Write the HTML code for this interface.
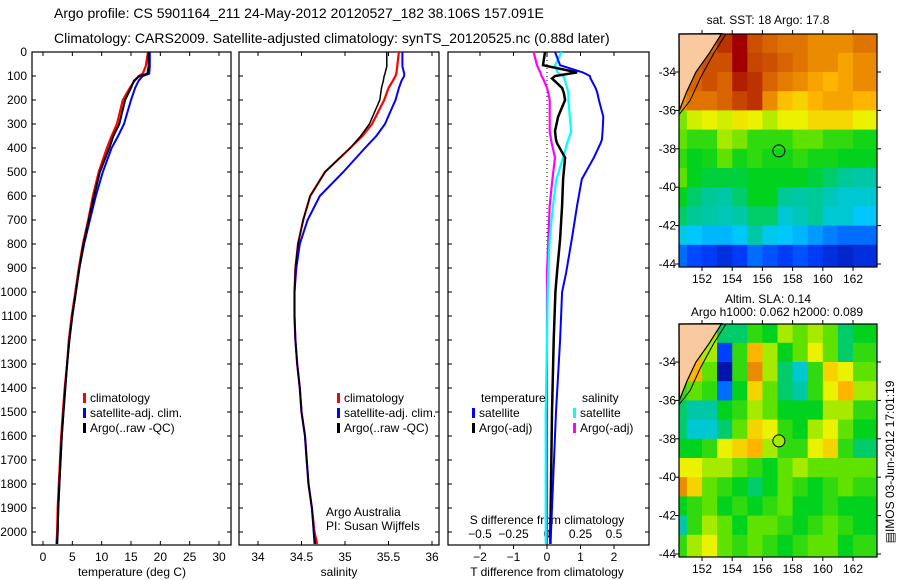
<!DOCTYPE html>
<html><head><meta charset="utf-8">
<style>
html,body{margin:0;padding:0;background:#fff;}
svg{display:block;font-family:"Liberation Sans",sans-serif;}
</style></head>
<body>
<svg id="fig" width="900" height="580" viewBox="0 0 900 580" xmlns="http://www.w3.org/2000/svg">
<text x="54" y="18" font-size="14">Argo profile: CS 5901164_211 24-May-2012 20120527_182 38.106S 157.091E</text>
<text x="54" y="43" font-size="14">Climatology: CARS2009. Satellite-adjusted climatology: synTS_20120525.nc (0.88d later)</text>
</svg>
<script>
// ---------- data ----------
const depths = [0,60,90,100,120,150,200,250,300,350,400,500,600,700,800,900,1000,1100,1200,1300,1400,1500,1600,1700,1800,1900,2000,2050];
const tempClim = [17.9,17.5,17.0,16.3,15.6,14.8,13.6,13.1,12.6,11.7,10.9,9.5,8.5,7.7,6.8,6.1,5.5,4.9,4.4,4.1,3.7,3.4,3.1,2.9,2.7,2.5,2.4,2.3];
const tempSat = [18.2,18.2,18.1,17.0,16.3,15.7,15.0,14.4,13.8,12.8,11.7,10.2,9.0,8.0,7.0,6.2,5.6,5.0,4.5,4.1,3.8,3.5,3.2,3.0,2.8,2.6,2.5,2.4];
const tempArgo = [18.0,18.0,17.8,16.5,15.5,15.0,14.0,13.5,13.0,12.0,11.3,9.7,8.7,7.8,6.9,6.2,5.6,5.0,4.5,4.1,3.8,3.5,3.2,3.0,2.8,2.6,2.5,2.4];
const salClim = [35.62,35.60,35.59,35.58,35.55,35.50,35.45,35.38,35.31,35.20,35.06,34.77,34.60,34.52,34.46,34.43,34.42,34.42,34.43,34.45,34.48,34.50,34.54,34.56,34.58,34.62,34.65,34.68];
const salSat = [35.66,35.66,35.68,35.68,35.65,35.62,35.58,35.52,35.46,35.36,35.23,34.98,34.71,34.57,34.48,34.44,34.42,34.42,34.43,34.45,34.48,34.50,34.54,34.56,34.58,34.62,34.64,34.65];
const salArgo = [35.48,35.48,35.46,35.45,35.44,35.42,35.40,35.34,35.28,35.18,35.06,34.77,34.60,34.52,34.46,34.43,34.42,34.42,34.43,34.45,34.48,34.50,34.54,34.56,34.58,34.62,34.64,34.66];
const diffDepths = [0,55,85,100,110,150,170,200,270,330,365,380,440,530,640,780,920,1000,1200,1500,1800,2000,2050];
const dTSat = [0.24,0.39,1.07,1.28,1.3,1.45,1.5,1.55,1.68,1.66,1.64,1.6,1.4,1.04,0.9,0.74,0.57,0.45,0.39,0.27,0.18,0.12,0.1];
const dTArgo = [-0.06,-0.12,0.9,0.24,0.15,0.45,0.5,0.54,0.33,0.24,0.27,0.3,0.54,0.48,0.45,0.39,0.3,0.25,0.2,0.15,0.12,0.1,0.1];
const dSSat = [0.11,0.06,0.08,0.12,0.13,0.15,0.16,0.16,0.17,0.18,0.16,0.15,0.12,0.07,0.045,0.02,0.01,0.005,0,-0.01,-0.01,-0.01,-0.01];
const dSArgo = [-0.1,-0.075,-0.05,-0.04,-0.03,0,0.01,0.02,0.02,0.02,0.03,0.035,0.06,0.04,0.02,0.01,0,0,0,0,0,0,0];
const depthTicks = [0,100,200,300,400,500,600,700,800,900,1000,1100,1200,1300,1400,1500,1600,1700,1800,1900,2000];
const tempTicks = [0,5,10,15,20,25,30];
const salTicks = [34,34.5,35,35.5,36];
const tDiffTicks = [-2,-1,0,1,2];
const sDiffTicks = [-0.5,-0.25,0,0.25,0.5];
const sDiffLabels = ['\u22120.5','\u22120.25','0','0.25','0.5'];
const latTicks = [-34,-36,-38,-40,-42,-44];
const lonTicks = [152,154,156,158,160,162];
const gridLats = [-32,-33,-34,-35,-36,-37,-38,-39,-40,-41,-42,-43];
const gridLons = [150.5,151.5,152.5,153.5,154.5,155.5,156.5,157.5,158.5,159.5,160.5,161.5,162.5];
const sstGrid = [
[null,null,0.9,0.95,1.0,0.92,0.9,0.88,0.88,0.85,0.85,0.85,0.88],
[null,0.9,0.92,0.92,1.0,0.93,0.92,0.9,0.88,0.85,0.85,0.82,0.85],
[null,0.9,0.92,0.9,0.97,0.95,0.9,0.87,0.85,0.82,0.8,0.82,0.85],
[0.85,0.88,0.88,0.9,0.93,0.95,0.85,0.78,0.75,0.8,0.82,0.82,0.8],
[0.62,0.68,0.7,0.68,0.72,0.7,0.66,0.7,0.7,0.74,0.74,0.74,0.7],
[0.6,0.55,0.55,0.65,0.62,0.55,0.55,0.55,0.6,0.6,0.55,0.55,0.52],
[0.55,0.5,0.52,0.6,0.52,0.55,0.52,0.52,0.55,0.52,0.52,0.5,0.5],
[0.6,0.5,0.48,0.48,0.48,0.5,0.5,0.5,0.5,0.48,0.45,0.42,0.4],
[0.5,0.45,0.42,0.4,0.45,0.5,0.5,0.42,0.4,0.42,0.38,0.35,0.35],
[0.45,0.42,0.4,0.38,0.4,0.45,0.45,0.35,0.38,0.42,0.35,0.35,0.3],
[0.33,0.3,0.28,0.28,0.3,0.4,0.32,0.3,0.28,0.25,0.22,0.2,0.2],
[0.2,0.16,0.14,0.11,0.14,0.2,0.17,0.14,0.17,0.14,0.11,0.09,0.11]];
const slaGrid = [
[null,null,0.65,0.45,0.45,0.55,0.5,0.65,0.6,0.65,0.6,0.45,0.5],
[null,0.8,0.65,0.15,0.55,0.8,0.65,0.5,0.6,0.7,0.6,0.45,0.55],
[null,0.8,0.6,0.05,0.55,0.85,0.65,0.45,0.35,0.55,0.75,0.7,0.6],
[0.55,0.6,0.55,0.2,0.5,0.75,0.6,0.45,0.4,0.55,0.7,0.8,0.65],
[0.45,0.4,0.4,0.5,0.55,0.65,0.6,0.5,0.5,0.5,0.65,0.65,0.55],
[0.45,0.35,0.35,0.45,0.6,0.75,0.7,0.55,0.5,0.65,0.7,0.6,0.5],
[0.5,0.5,0.55,0.7,0.75,0.8,0.65,0.55,0.55,0.7,0.75,0.55,0.45],
[0.7,0.7,0.65,0.65,0.6,0.55,0.5,0.6,0.65,0.6,0.6,0.6,0.6],
[0.85,0.75,0.6,0.55,0.5,0.45,0.5,0.6,0.55,0.5,0.55,0.6,0.55],
[0.5,0.55,0.6,0.5,0.55,0.5,0.55,0.6,0.5,0.5,0.55,0.5,0.5],
[0.4,0.55,0.65,0.6,0.5,0.6,0.6,0.55,0.5,0.55,0.6,0.55,0.5],
[0.55,0.65,0.7,0.6,0.55,0.6,0.55,0.5,0.55,0.6,0.6,0.5,0.55]];
const argoLon = 157.09, argoLat = -38.11;

// ---------- helpers ----------
const NS = "http://www.w3.org/2000/svg";
const svg = document.getElementById('fig');
function mk(tag, attrs, parent){const e=document.createElementNS(NS,tag);for(const k in attrs)e.setAttribute(k,attrs[k]);(parent||svg).appendChild(e);return e;}
function lin(d0,d1,r0,r1){return v=>r0+(v-d0)*(r1-r0)/(d1-d0);}
const yDepth = lin(0,2000,52,532);
const PT=52, PB=545;

function panel(name,x0,x1){
  const r=mk('rect',{x:x0,y:PT,width:x1-x0,height:PB-PT,fill:'none',stroke:'#000','stroke-width':1.2});
  
  
  depthTicks.forEach(d=>{const y=yDepth(d);
    mk('line',{x1:x0,x2:x0+4,y1:y,y2:y,stroke:'#000'});
    mk('line',{x1:x1,x2:x1-4,y1:y,y2:y,stroke:'#000'});});
}
function line(name,xs,ds,xf,color,w){
  const pts=xs.map((v,i)=>xf(v).toFixed(1)+','+yDepth(ds[i]).toFixed(1)).join(' ');
  const p=mk('polyline',{points:pts,fill:'none',stroke:color,'stroke-width':w||2});
  
  
}
function txt(s,x,y,o){const t=mk('text',Object.assign({x:x,y:y,'font-size':12},o||{}));t.textContent=s;return t;}
function legend(x,y,color,label,name){
  mk('rect',{x:x,y:y-9,width:3,height:10,fill:color});
  const t=txt(label,x+7,y);
  
  
}

// ---------- panel 1: temperature ----------
const xT = lin(0,30,43,219);
panel('temperature-panel',32,231);
depthTicks.forEach(d=>{const t=txt(String(d),27,yDepth(d)+4,{'text-anchor':'end'});
  
  });
tempTicks.forEach(v=>{const x=xT(v);mk('line',{x1:x,x2:x,y1:PB,y2:PB-4,stroke:'#000'});mk('line',{x1:x,x2:x,y1:PT,y2:PT+4,stroke:'#000'});
  txt(String(v),x,561,{'text-anchor':'middle'});});
const tl=txt('temperature (deg C)',132,576,{'text-anchor':'middle'});

line('temp-climatology-line',tempClim,depths,xT,'#ff0000',2.2);
line('temp-satellite-line',tempSat,depths,xT,'#0000ff',2);
line('temp-argo-line',tempArgo,depths,xT,'#000000',2);
legend(83,402,'#ff0000','climatology','legend-climatology');
legend(83,417,'#0000ff','satellite-adj. clim.','legend-satellite-adj');
legend(83,432,'#000000','Argo(..raw -QC)','legend-argo');

// ---------- panel 2: salinity ----------
const xS = lin(34,36,258,432);
panel('salinity-panel',239,439);
salTicks.forEach(v=>{const x=xS(v);mk('line',{x1:x,x2:x,y1:PB,y2:PB-4,stroke:'#000'});mk('line',{x1:x,x2:x,y1:PT,y2:PT+4,stroke:'#000'});
  txt(String(v),x,561,{'text-anchor':'middle'});});
const sl=txt('salinity',339,576,{'text-anchor':'middle'});

line('sal-climatology-line',salClim,depths,xS,'#ff0000',2.2);
line('sal-satellite-line',salSat,depths,xS,'#0000ff',2);
line('sal-argo-line',salArgo,depths,xS,'#000000',1.5);
legend(337,402,'#ff0000','climatology','legend-climatology-2');
legend(337,417,'#0000ff','satellite-adj. clim.','legend-satellite-adj-2');
legend(337,432,'#000000','Argo(..raw -QC)','legend-argo-2');
txt('Argo Australia',326,516);
txt('PI: Susan Wijffels',326,530);

// ---------- panel 3: differences ----------
const xDT = lin(0,2,547,614);
const xDS = lin(0,0.5,547,614);
panel('difference-panel',448,649);
tDiffTicks.forEach(v=>{const x=xDT(v);mk('line',{x1:x,x2:x,y1:PB,y2:PB+4,stroke:'#000'});mk('line',{x1:x,x2:x,y1:PT,y2:PT+4,stroke:'#000'});
  txt(String(v).replace('-','\u2212'),x,561,{'text-anchor':'middle'});});
sDiffTicks.forEach((v,i)=>{txt(sDiffLabels[i],xDS(v),538,{'text-anchor':'middle'});});
const dl=txt('T difference from climatology',547,576,{'text-anchor':'middle'});

const sdl=txt('S difference from climatology',547,524,{'text-anchor':'middle'});

mk('line',{x1:547,x2:547,y1:PT,y2:PB,stroke:'#000','stroke-dasharray':'1,3'});
line('s-diff-argo-line',dSArgo,diffDepths,xDS,'#ff00ff',2.2);
line('s-diff-satellite-line',dSSat,diffDepths,xDS,'#00ffff',2.2);
line('t-diff-argo-line',dTArgo,diffDepths,xDT,'#000000',2.5);
line('t-diff-satellite-line',dTSat,diffDepths,xDT,'#0000ff',2);
txt('temperature',481,402);
legend(472,417,'#0000ff','satellite','legend-t-satellite');
legend(472,432,'#000000','Argo(-adj)','legend-t-argo');
txt('salinity',582,402);
legend(573,417,'#00ffff','satellite','legend-s-satellite');
legend(573,432,'#ff00ff','Argo(-adj)','legend-s-argo');

// ---------- maps ----------
const cstops=[[0,[0,0,127]],[0.15,[0,64,255]],[0.3,[0,200,255]],[0.42,[0,200,150]],[0.5,[0,210,30]],[0.6,[96,226,0]],[0.7,[235,242,0]],[0.8,[255,180,0]],[0.9,[215,100,0]],[1,[160,0,0]]];
function cmap(v){v=Math.max(0,Math.min(1,v));for(let i=1;i<cstops.length;i++){if(v<=cstops[i][0]){const a=cstops[i-1],b=cstops[i],t=(v-a[0])/(b[0]-a[0]);
  return 'rgb('+a[1].map((c,k)=>Math.round(c+(b[1][k]-c)*t)).join(',')+')';}}return 'rgb(160,0,0)';}
function map(name,top,bottom,grid,title1,title2){
  const L=679,R=877;
  const xL=lin(152,162,702,853), yL=lin(-34,-44,top+38,top+230);
  const g=mk('g',{});
  
  
  mk('rect',{x:L,y:top,width:R-L,height:bottom-top,fill:'#f9c9a0'},g);
  const nc=gridLons.length;
  grid.forEach((row,i)=>row.forEach((v,j)=>{if(v===null)return;
    const x0=j===0?L:xL(gridLons[j]-0.5), x1=j===nc-1?R:xL(gridLons[j]+0.5);
    const y0=i===0?top:yL(gridLats[i]), y1=i===grid.length-1?bottom:yL(gridLats[i]-1);
    const c=mk('rect',{x:x0,y:y0,width:x1-x0+0.5,height:y1-y0+0.5,fill:cmap(v)},g);
    
    }));
  const coast=[[153.3,-32],[152.5,-33],[151.6,-34],[151.0,-35],[150.5,-36]];
  const landPts=[[L,top]].concat(coast.map(p=>[xL(p[0]),yL(p[1])])).map(p=>p.join(',')).join(' ');
  mk('polygon',{points:landPts,fill:'#f9c9a0',stroke:'#000','stroke-width':1.2},g);
  const iso=[[153.6,-32],[152.8,-33],[151.9,-34.3],[151.2,-35.5],[150.5,-36.2]];
  mk('polyline',{points:iso.map(p=>xL(p[0])+','+yL(p[1])).join(' '),fill:'none',stroke:'#000','stroke-width':1},g);
  mk('rect',{x:L,y:top,width:R-L,height:bottom-top,fill:'none',stroke:'#000','stroke-width':1.2},g);
  latTicks.forEach(v=>{const y=yL(v);mk('line',{x1:L,x2:L-4,y1:y,y2:y,stroke:'#000'});mk('line',{x1:R,x2:R+4,y1:y,y2:y,stroke:'#000'});
    txt(String(v),676,y+4,{'text-anchor':'end'});});
  lonTicks.forEach(v=>{const x=xL(v);mk('line',{x1:x,x2:x,y1:bottom,y2:bottom+4,stroke:'#000'});mk('line',{x1:x,x2:x,y1:top,y2:top-4,stroke:'#000'});
    txt(String(v),x,bottom+16,{'text-anchor':'middle'});});
  const fillC = name==='sla-map'?cmap(slaGrid[6][6]):'none';
  const c=mk('circle',{cx:xL(argoLon),cy:yL(argoLat),r:6,fill:fillC,stroke:'#000','stroke-width':1});
  
  
  if(title2){txt(title1,768,303,{'text-anchor':'middle'});txt(title2,777,316,{'text-anchor':'middle'});}
  else txt(title1,768,24,{'text-anchor':'middle'});
}
map('sst-map',34,267,sstGrid,'sat. SST: 18 Argo: 17.8');
map('sla-map',324,557,slaGrid,'Altim. SLA: 0.14','Argo h1000: 0.062 h2000: 0.089');
const st=txt('\u25A4IMOS 03-Jun-2012 17:01:19',0,0,{'text-anchor':'middle',transform:'translate(894,462) rotate(-90)'});


</script>
</body></html>
